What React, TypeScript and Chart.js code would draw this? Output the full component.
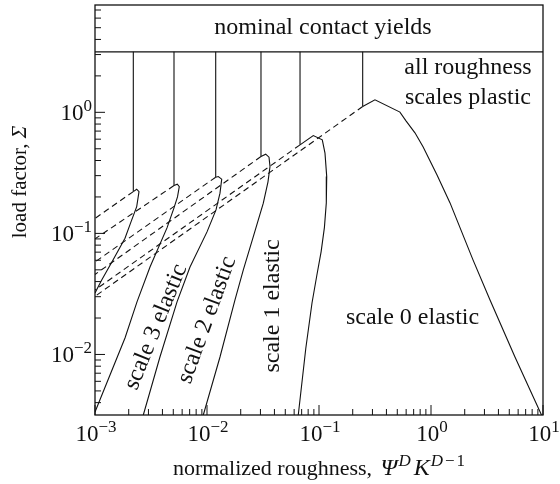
import React, { useEffect, useRef } from "react";
import { Chart, registerables } from "chart.js";

Chart.register(...registerables);

// axis ranges (log-log)
const X_MIN = 1e-3;
const X_MAX = 10;
const Y_MIN = 0.003162;
const Y_MAX = 7.7;

// load factor at which the nominal contact yields
const nominalYield = 3.16;

// point where each scale's yield line ends (scale 0 … 5)
const yieldX = [0.2455, 0.0677, 0.03034, 0.01196, 0.005074, 0.002198];
const yieldY = [1.117, 0.5387, 0.4312, 0.2913, 0.2483, 0.2215];
// dashed plastic-onset lines: load factor where each meets the left axis
const dashedEndY = [0.0302, 0.0341, 0.0458, 0.0581, 0.0901, 0.133];

// elastic limit boundary of each scale
const scale0X = [0.2455, 0.316, 0.528, 0.598, 0.719, 0.849, 1.132, 1.479, 2.371, 3.365, 5.62, 9.7];
const scale0Y = [1.117, 1.269, 1.004, 0.851, 0.677, 0.519, 0.304, 0.1786, 0.0604, 0.0282, 0.00953, 0.003162];

const scale1X = [0.0677, 0.0889, 0.107, 0.1131, 0.1172, 0.1162, 0.1118, 0.1045, 0.0955, 0.0866, 0.0762, 0.0653];
const scale1Y = [0.5387, 0.643, 0.5925, 0.46, 0.2946, 0.1786, 0.1122, 0.0708, 0.0447, 0.0266, 0.0112, 0.003162];

const scale2X = [0.03034, 0.03343, 0.03578, 0.03652, 0.03504, 0.03182, 0.02591, 0.0211, 0.01778, 0.01306, 0.00927];
const scale2Y = [0.4312, 0.4514, 0.4264, 0.3565, 0.2665, 0.1777, 0.0941, 0.0499, 0.02821, 0.00953, 0.003162];

const scale3X = [0.01196, 0.01261, 0.01353, 0.01306, 0.01203, 0.01, 0.00705, 0.0054, 0.0038, 0.0027];
const scale3Y = [0.2913, 0.2946, 0.2805, 0.2149, 0.1564, 0.1029, 0.0528, 0.02716, 0.00953, 0.003162];

const scale4X = [0.005074, 0.005429, 0.005657, 0.005452, 0.005074, 0.004394, 0.003098, 0.002371, 0.001853, 0.001361, 0.001];
const scale4Y = [0.2483, 0.255, 0.2436, 0.2002, 0.1624, 0.111, 0.0528, 0.02716, 0.01369, 0.00677, 0.003348];

const scale5X = [0.002198, 0.002357, 0.002471, 0.002357, 0.002096, 0.001853, 0.001448, 0.001148, 0.001];
const scale5Y = [0.2215, 0.2318, 0.2215, 0.1665, 0.1245, 0.0913, 0.0604, 0.04126, 0.03223];

const boundaryX = [scale0X, scale1X, scale2X, scale3X, scale4X, scale5X];
const boundaryY = [scale0Y, scale1Y, scale2Y, scale3Y, scale4Y, scale5Y];

// axis ticks
const xMajorTicks = [1e-3, 1e-2, 1e-1, 1, 10];
const xTickExponents = ["\u22123", "\u22122", "\u22121", "0", "1"];
const yMajorTicks = [1e-2, 1e-1, 1];
const yTickExponents = ["\u22122", "\u22121", "0"];
const minorMultipliers = [2, 3, 4, 5, 6, 7, 8, 9];

const FONT = '"Liberation Serif", "Times New Roman", serif';
const INK = "#111";

type Seg = { t: string; italic?: boolean; sup?: boolean; gap?: number; size?: number };

function drawRich(
  ctx: CanvasRenderingContext2D,
  segs: Seg[],
  x: number,
  y: number,
  size: number,
  align: "left" | "center" | "right"
) {
  const supSize = Math.round(size * 0.72);
  const fontFor = (s: Seg) =>
    `${s.italic ? "italic " : ""}${s.size || (s.sup ? supSize : size)}px ${FONT}`;
  let total = 0;
  for (const s of segs) {
    ctx.font = fontFor(s);
    total += ctx.measureText(s.t).width + (s.gap || 0);
  }
  let cx = align === "center" ? x - total / 2 : align === "right" ? x - total : x;
  ctx.textAlign = "left";
  for (const s of segs) {
    ctx.font = fontFor(s);
    ctx.fillText(s.t, cx, s.sup ? y - size * 0.4 : y);
    cx += ctx.measureText(s.t).width + (s.gap || 0);
  }
}

type Note = { text: string; x: number; y: number; rot: number; size: number; baseline: CanvasTextBaseline };

// region annotations, anchored in data coordinates
const notes: Note[] = [
  { text: "nominal contact yields", x: 0.1086, y: 4.41, rot: 0, size: 24, baseline: "alphabetic" },
  { text: "all roughness", x: 2.14, y: 2.08, rot: 0, size: 24, baseline: "alphabetic" },
  { text: "scales plastic", x: 2.14, y: 1.176, rot: 0, size: 24, baseline: "alphabetic" },
  { text: "scale 0 elastic", x: 0.684, y: 0.0177, rot: 0, size: 24, baseline: "alphabetic" },
  { text: "scale 1 elastic", x: 0.0388, y: 0.02517, rot: -90, size: 24, baseline: "middle" },
  { text: "scale 2 elastic", x: 0.01, y: 0.01928, rot: -70, size: 24, baseline: "middle" },
  { text: "scale 3 elastic", x: 0.003504, y: 0.01688, rot: -68, size: 24, baseline: "middle" },
];

const frameAndText = {
  id: "frameAndText",
  afterDraw(chart: Chart) {
    const { ctx, chartArea } = chart;
    const xs = chart.scales.x;
    const ys = chart.scales.y;
    const { left, right, top, bottom } = chartArea;
    ctx.save();

    // frame
    ctx.strokeStyle = INK;
    ctx.lineWidth = 1.3;
    ctx.strokeRect(left, top, right - left, bottom - top);

    // inward ticks on bottom and left
    ctx.lineWidth = 1;
    const tick = (x1: number, y1: number, x2: number, y2: number) => {
      ctx.beginPath();
      ctx.moveTo(x1, y1);
      ctx.lineTo(x2, y2);
      ctx.stroke();
    };
    for (let e = -3; e <= 1; e++) {
      const base = Math.pow(10, e);
      if (base >= X_MIN && base <= X_MAX) {
        const px = xs.getPixelForValue(base);
        tick(px, bottom, px, bottom - 10);
      }
      for (const m of minorMultipliers) {
        const v = m * base;
        if (v > X_MIN && v < X_MAX) {
          const px = xs.getPixelForValue(v);
          tick(px, bottom, px, bottom - 6);
        }
      }
    }
    for (let e = -3; e <= 0; e++) {
      const base = Math.pow(10, e);
      if (base >= Y_MIN && base <= Y_MAX) {
        const py = ys.getPixelForValue(base);
        tick(left, py, left + 10, py);
      }
      for (const m of minorMultipliers) {
        const v = m * base;
        if (v > Y_MIN && v < Y_MAX) {
          const py = ys.getPixelForValue(v);
          tick(left, py, left + 6, py);
        }
      }
    }

    ctx.fillStyle = INK;
    ctx.textBaseline = "alphabetic";

    // tick labels
    xMajorTicks.forEach((v, i) => {
      const px = xs.getPixelForValue(v);
      drawRich(ctx, [{ t: "10" }, { t: xTickExponents[i], sup: true }], px + 1, bottom + 26, 23, "center");
    });
    yMajorTicks.forEach((v, i) => {
      const py = ys.getPixelForValue(v);
      drawRich(ctx, [{ t: "10" }, { t: yTickExponents[i], sup: true }], left - 3, py + 8, 23, "right");
    });

    // axis titles
    drawRich(
      ctx,
      [
        { t: "normalized roughness, ", gap: 3 },
        { t: "\u03A8", italic: true, size: 24, gap: 1 },
        { t: "D", italic: true, sup: true, size: 17, gap: 3 },
        { t: "K", italic: true, size: 24, gap: 1 },
        { t: "D", italic: true, sup: true, size: 17, gap: 2 },
        { t: "\u2212", sup: true, size: 17, gap: 2 },
        { t: "1", sup: true, size: 17 },
      ],
      (left + right) / 2,
      475,
      22,
      "center"
    );
    ctx.save();
    ctx.translate(26, (top + bottom) / 2 - 28);
    ctx.rotate(-Math.PI / 2);
    drawRich(ctx, [{ t: "load factor, " }, { t: "\u03A3", italic: true }], 0, 0, 21, "center");
    ctx.restore();

    // region annotations
    for (const n of notes) {
      const px = xs.getPixelForValue(n.x);
      const py = ys.getPixelForValue(n.y);
      ctx.save();
      ctx.translate(px, py);
      ctx.rotate((n.rot * Math.PI) / 180);
      ctx.font = `${n.size}px ${FONT}`;
      ctx.textAlign = "center";
      ctx.textBaseline = n.baseline;
      ctx.fillText(n.text, 0, 0);
      ctx.restore();
    }
    ctx.restore();
  },
};

function pts(xs: number[], ys: number[]) {
  return xs.map((x, i) => ({ x, y: ys[i] }));
}

export default function App() {
  const ref = useRef<HTMLCanvasElement>(null);

  useEffect(() => {
    if (!ref.current) return;
    const solid = { borderColor: INK, borderWidth: 1.1, pointRadius: 0, showLine: true, tension: 0, fill: false };
    const datasets: any[] = [];
    datasets.push({ ...solid, data: [{ x: X_MIN, y: nominalYield }, { x: X_MAX, y: nominalYield }] });
    yieldX.forEach((x, i) => {
      datasets.push({ ...solid, data: [{ x, y: nominalYield }, { x, y: yieldY[i] }] });
      datasets.push({
        ...solid,
        borderDash: [6, 4],
        data: [{ x, y: yieldY[i] }, { x: X_MIN, y: dashedEndY[i] }],
      });
    });
    boundaryX.forEach((xs, i) => {
      datasets.push({ ...solid, data: pts(xs, boundaryY[i]) });
    });

    const chart = new Chart(ref.current, {
      type: "scatter",
      data: { datasets },
      options: {
        animation: false,
        responsive: false,
        devicePixelRatio: 1,
        layout: { padding: { left: 0, right: 17, top: 5, bottom: 0 } },
        plugins: { legend: { display: false }, tooltip: { enabled: false } },
        scales: {
          x: {
            type: "logarithmic",
            min: X_MIN,
            max: X_MAX,
            grid: { display: false },
            border: { display: false },
            ticks: { display: false },
            afterFit: (s: any) => {
              s.height = 69;
            },
          },
          y: {
            type: "logarithmic",
            min: Y_MIN,
            max: Y_MAX,
            grid: { display: false },
            border: { display: false },
            ticks: { display: false },
            afterFit: (s: any) => {
              s.width = 95;
            },
          },
        },
      },
      plugins: [frameAndText],
    });
    return () => chart.destroy();
  }, []);

  return (
    <div style={{ position: "absolute", left: 0, top: 0, width: 560, height: 484, background: "#fff" }}>
      <canvas ref={ref} width={560} height={484} style={{ display: "block" }} />
    </div>
  );
}
